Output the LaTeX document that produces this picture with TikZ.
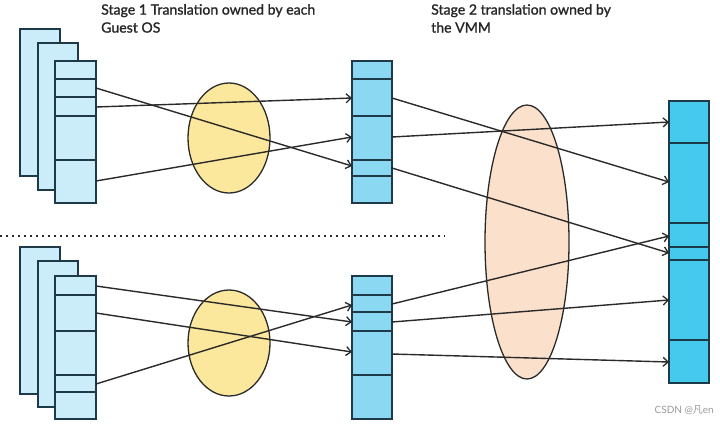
\documentclass[tikz,border=0pt]{standalone}
\usepackage{fontspec}
\setmainfont{Lato}
\newfontfamily\headfont{Lato}[FakeBold=1.3]
\newfontfamily\cjkfont{Noto Sans CJK SC}
\usetikzlibrary{arrows.meta,shapes.geometric}
\definecolor{pagecol}{HTML}{CBEDF9}
\definecolor{midcol}{HTML}{8AD8F2}
\definecolor{rightcol}{HTML}{45C9EC}
\definecolor{bordercol}{HTML}{1E3A48}
\definecolor{yellowcol}{HTML}{FCE89C}
\definecolor{pinkcol}{HTML}{FBE1CC}
\definecolor{linecol}{HTML}{2A2A2A}
\definecolor{textcol}{HTML}{262626}
\tikzset{
  boxbase/.style={draw=bordercol, line width=1.6pt, anchor=north west, inner sep=0pt, outer sep=0pt},
  pagebox/.style={boxbase, fill=pagecol},
  midbox/.style={boxbase, fill=midcol},
  rightbox/.style={boxbase, fill=rightcol},
  divline/.style={draw=bordercol, line width=1.6pt},
  ellipsebase/.style={draw=linecol, line width=1.3pt, ellipse, inner sep=0pt},
  maparrow/.style={draw=linecol, line width=1.4pt, -{Straight Barb[length=5pt,width=9pt,line width=1.3pt]}},
  heading/.style={font=\headfont\fontsize{14.1}{18}\selectfont, text=textcol, align=left, anchor=north west, inner sep=0pt}
}
\begin{document}
\begin{tikzpicture}[x=1pt,y=-1pt]
\useasboundingbox (0,0) rectangle (720,426);
% headings
\node[heading] (h1) at (101,4) {Stage 1 Translation owned by each\\Guest OS};
\node[heading] (h2) at (431,4) {Stage 2 translation owned by\\the VMM};
% ellipses
\node[ellipsebase, fill=pinkcol, minimum width=84pt, minimum height=274pt] (pe) at (527,242) {};
\node[ellipsebase, fill=yellowcol, minimum width=82pt, minimum height=110pt] (ye1) at (229,138) {};
\node[ellipsebase, fill=yellowcol, minimum width=82pt, minimum height=106pt] (ye2) at (229,343) {};
% top stack
\node[pagebox, minimum width=40pt, minimum height=147pt] (tp1) at (20,29) {};
\node[pagebox, minimum width=40pt, minimum height=147pt] (tp2) at (38,43) {};
\node[pagebox, minimum width=41pt, minimum height=142pt] (tp3) at (55,61) {};
\foreach \y in {79,97,116,160} \draw[divline] (tp3.west |- 0,\y) -- (tp3.east |- 0,\y);
% top middle
\node[midbox, minimum width=40pt, minimum height=142pt] (tm) at (352,61) {};
\foreach \y in {79,116,160,176} \draw[divline] (tm.west |- 0,\y) -- (tm.east |- 0,\y);
% right column
\node[rightbox, minimum width=40pt, minimum height=282pt] (rc) at (669,101) {};
\foreach \y in {143,223,247,260,340} \draw[divline] (rc.west |- 0,\y) -- (rc.east |- 0,\y);
% bottom stack
\node[pagebox, minimum width=40pt, minimum height=147pt] (bp1) at (20,247) {};
\node[pagebox, minimum width=40pt, minimum height=146pt] (bp2) at (38,261) {};
\node[pagebox, minimum width=41pt, minimum height=143pt] (bp3) at (55,276) {};
\foreach \y in {295,331,375,392} \draw[divline] (bp3.west |- 0,\y) -- (bp3.east |- 0,\y);
% bottom middle
\node[midbox, minimum width=40pt, minimum height=143pt] (bm) at (352,276) {};
\foreach \y in {295,312,331,375} \draw[divline] (bm.west |- 0,\y) -- (bm.east |- 0,\y);
% dotted separator
\coordinate (dl) at (0,236);
\coordinate (dr) at (445,236);
\draw[linecol, line width=2.4pt, dash pattern=on 2.4pt off 3.6pt] (dl) -- (dr);
% stage 1 arrows (top)
\draw[maparrow] (tp3.east |- 0,88) -- (tm.west |- 0,166);
\draw[maparrow] (tp3.east |- 0,107) -- (tm.west |- 0,98);
\draw[maparrow] (tp3.east |- 0,181) -- (tm.west |- 0,137);
% stage 2 arrows (top)
\draw[maparrow] (tm.east |- 0,98) -- (rc.west |- 0,182);
\draw[maparrow] (tm.east |- 0,137) -- (rc.west |- 0,122);
\draw[maparrow] (tm.east |- 0,168) -- (rc.west |- 0,253);
% stage 1 arrows (bottom)
\draw[maparrow] (bp3.east |- 0,286) -- (bm.west |- 0,322);
\draw[maparrow] (bp3.east |- 0,313) -- (bm.west |- 0,352);
\draw[maparrow] (bp3.east |- 0,384) -- (bm.west |- 0,305);
% stage 2 arrows (bottom)
\draw[maparrow] (bm.east |- 0,304) -- (rc.west |- 0,236);
\draw[maparrow] (bm.east |- 0,322) -- (rc.west |- 0,300);
\draw[maparrow] (bm.east |- 0,354) -- (rc.west |- 0,362);
% watermark
\node[font=\fontsize{10}{12}\selectfont, text=black!40, anchor=east, inner sep=0pt] (wm) at (714,410) {CSDN @{\cjkfont 凡}en};
\end{tikzpicture}
\end{document}
